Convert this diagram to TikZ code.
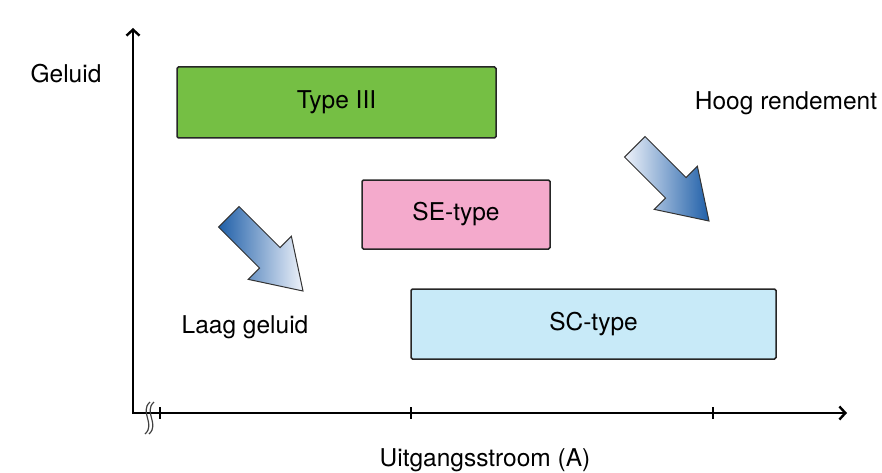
\documentclass[tikz,border=0pt]{standalone}
\usepackage{fontspec}
\setmainfont{TeX Gyre Heros}
\usepackage{tikz}
\usetikzlibrary{arrows.meta,shapes.arrows}

\definecolor{grass}{HTML}{75BF44}
\definecolor{rose}{HTML}{F4AACC}
\definecolor{sky}{HTML}{C8EAF8}
\definecolor{deepblue}{HTML}{1F5FA8}
\definecolor{paleblue}{HTML}{EEF2FA}

\begin{document}
\begin{tikzpicture}[x = 1pt, y = -1pt, line width = 1.5pt,
                        band/.style = {draw = black!85, rounded corners = 1.5pt, inner sep = 0pt,
                                       font = \fontsize{24.5}{26}\selectfont},
                        label/.style = {font = \fontsize{24.5}{26}\selectfont, inner sep = 0pt},
                        bigarrow/.style = {single arrow, draw = black!80, line width = 1pt,
                                           minimum height = 105pt, minimum width = 60pt,
                                           single arrow head extend = 16pt, single arrow tip angle = 66,
                                           inner xsep = 0pt, inner ysep = 14pt, rotate = -45},
                        axis/.style = {line width = 2.4pt, {Straight Barb[length=6pt,width=13pt]}-{Straight Barb[length=6pt,width=13pt]}},
                        tick/.style = {line width = 2pt}]
      \useasboundingbox (0, 0) rectangle (882, 473);

      % bands
      \node [band, fill = grass, minimum width = 319pt, minimum height = 71pt] (b1) at (336.5, 102.5){Type III};
      \node [band, fill = rose, minimum width = 188pt, minimum height = 69pt] (b2) at (456, 214.5){SE-type};
      \node [band, fill = sky, minimum width = 365pt, minimum height = 70pt] (b3) at (593.5, 324){SC-type};

      % arrows
      \node [bigarrow, left color = deepblue, right color = paleblue] (p1) at (258, 246){};
      \node [bigarrow, left color = paleblue, right color = deepblue] (p2) at (664, 176){};

      % texts
      \node [label] (l1) at (66, 74){Geluid};
      \node [label] (l2) at (786, 103){Hoog rendement};
      \node [label] (l3) at (245, 327){Laag geluid};
      \node [label] (l4) at (485, 460){Uitgangsstroom (A)};

      % axes
      \coordinate (o) at (133, 413);
      \coordinate (ytop) at (133, 28);
      \coordinate (xend) at (847, 413);
      \draw [axis] (ytop) -- (o) -- (xend);
      \foreach \x in {160, 411, 713}
        \draw [tick] (\x, 407) -- (\x, 419);

      % break
      \draw [line width = 1.2pt, black!75] (150, 402) .. controls (139, 412) and (156, 424) .. (145, 434);
      \draw [line width = 1.2pt, black!75] (154, 402) .. controls (143, 412) and (160, 424) .. (149, 434);

      \end{tikzpicture}
\end{document}
